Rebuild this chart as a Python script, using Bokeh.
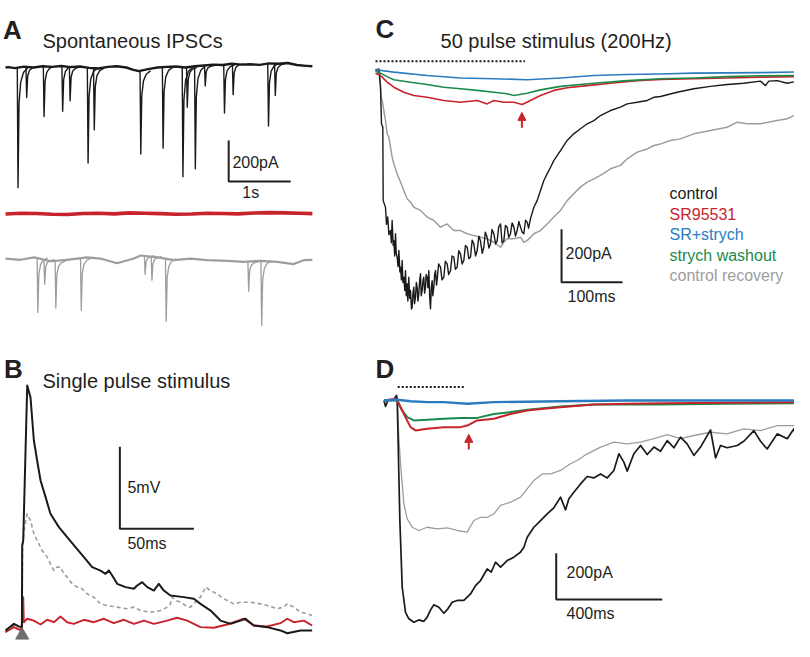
import numpy as np
from bokeh.plotting import figure
from bokeh.layouts import row, column
from bokeh.models import Range1d, Arrow, NormalHead
from bokeh.core.properties import value
from bokeh.embed import file_html
from bokeh.resources import INLINE

FONT = value("Liberation Sans")
BLACK = "#1a1a1a"
RED = "#c8232c"
BLUE = "#2a7bbf"
GREEN = "#1b8a4a"
GREY = "#9d9d9d"
TEXT = "#231f20"

# ---------------- Panel A: spontaneous IPSCs (time s, current pA) ----------------
A_CONTROL_BASE = [(0.0, 0), (0.05, 2), (0.15, -3), (0.3, 4), (0.45, 0), (0.6, 6), (0.75, 3), (0.9, 7), (1.05, 2),
                  (1.2, 5), (1.35, -2), (1.5, -5), (1.65, 3), (1.8, 6), (1.95, 0), (2.05, -10), (2.15, -18),
                  (2.3, -8), (2.45, 0), (2.6, 3), (2.75, 5), (2.9, 0), (3.05, 6), (3.2, 10), (3.35, 14),
                  (3.5, 12), (3.65, 18), (3.8, 14), (3.95, 16), (4.1, 13), (4.25, 20), (4.4, 18), (4.55, 22),
                  (4.7, 12), (4.85, 8), (4.95, 6)]
A_CONTROL_EVENTS = [(0.19, 585), (0.33, 150), (0.61, 245), (0.91, 220), (1.03, 165), (1.32, 465),
                    (1.42, 300), (2.17, 405), (2.53, 395), (2.85, 535), (2.92, 195), (3.05, 500),
                    (3.21, 100), (3.52, 235), (3.66, 150), (4.23, 305), (4.34, 155)]
A_SR_BASE = [(0.0, 0), (0.25, 4), (0.5, 3), (0.75, -1), (1.0, -2), (1.25, 3), (1.5, 4), (1.75, 1), (2.0, 6),
             (2.25, 4), (2.5, 2), (2.75, -1), (3.0, 0), (3.25, 4), (3.5, 3), (3.75, 1), (4.0, 5), (4.25, 7),
             (4.5, 6), (4.75, 4), (4.95, 2)]
A_RECOVERY_BASE = [(0.0, 0), (0.24, -6), (0.46, 6), (0.73, -13), (0.99, -6), (1.32, 6), (1.53, 0),
                   (1.80, -23), (2.07, 0), (2.18, 15), (2.45, 6), (2.72, -8), (2.98, 0), (3.25, -8),
                   (3.58, -11), (3.84, -16), (4.11, -11), (4.38, -16), (4.65, -27), (4.81, -8), (4.95, -6)]
A_RECOVERY_EVENTS = [(0.51, 265), (0.62, 120), (0.80, 230), (1.21, 255), (2.24, 90), (2.35, 115),
                     (2.58, 305), (3.91, 145), (4.12, 315)]

# ---------------- Panel B: single pulse (time ms, mV) ----------------
B_CONTROL = [(-11.3, -0.3), (-5.6, 0.1), (-2.3, -0.06), (-0.2, -0.1), (0, 4.88), (0.7, 5.2),
             (3.4, 14.63), (5.6, 13.92), (7.9, 11.28), (10.1, 10.06), (12.4, 8.84), (15.8, 7.83),
             (19.1, 6.81), (24.8, 6.0), (30.4, 5.39), (36.0, 4.78), (41.7, 4.17), (47.3, 3.56),
             (52.9, 3.35), (56.3, 3.15), (58.6, 3.35), (60.8, 3.05), (64.2, 2.54), (69.8, 2.34),
             (75.5, 2.24), (77.7, 2.44), (81.1, 2.64), (84.5, 2.34), (89.0, 2.13), (92.3, 2.54),
             (95.7, 2.13), (100.2, 1.83), (109.2, 1.73), (116.0, 1.63), (120.5, 1.32), (127.3, 0.91),
             (134.0, 0.30), (140.8, 0.10), (147.5, 0.30), (150.9, 0.41), (156.5, 0.0), (165.5, -0.10),
             (174.5, -0.30), (179.1, -0.47), (188.1, -0.30), (195.9, -0.30)]
B_RECOVERY = [(-11.3, -0.41), (-5.6, 0.0), (-1.1, -0.30), (0, -0.10), (0.2, 4.78), (1.6, 6.0),
              (3.4, 6.81), (5.6, 6.40), (7.9, 5.59), (10.1, 5.18), (13.5, 4.57), (16.9, 4.17),
              (19.1, 3.76), (21.4, 3.35), (23.6, 3.56), (25.9, 3.56), (28.2, 3.15), (30.4, 2.95),
              (33.8, 2.54), (37.2, 2.34), (40.5, 2.24), (43.9, 1.93), (48.4, 1.73), (52.9, 1.32),
              (57.4, 1.22), (64.2, 1.12), (70.9, 1.02), (75.5, 1.12), (80.0, 0.91), (86.7, 0.81),
              (93.5, 0.91), (98.0, 1.12), (100.2, 1.32), (101.4, 1.73), (103.6, 1.52), (107.0, 1.42),
              (110.4, 1.22), (113.7, 1.12), (118.2, 1.52), (120.5, 1.73), (123.9, 2.34), (127.3, 2.13),
              (131.8, 1.93), (136.3, 1.63), (143.0, 1.32), (147.5, 1.42), (154.3, 1.42), (161.0, 1.32),
              (165.5, 1.22), (172.3, 1.02), (176.8, 1.12), (179.1, 1.32), (183.6, 1.12), (188.1, 0.81),
              (192.6, 0.71), (195.9, 0.61)]
B_SR = [(-11.3, -0.41), (-5.6, -0.1), (-1.1, -0.3), (-0.2, 0.0), (0, 1.73), (0.7, 1.73), (1.1, 0.2),
        (3.4, 0.41), (7.9, 0.30), (12.4, 0.06), (16.9, 0.35), (21.4, 0.20), (25.9, 0.55), (30.4, 0.20),
        (34.9, 0.10), (41.7, 0.35), (48.4, 0.20), (55.2, 0.41), (61.9, 0.14), (68.7, 0.35), (75.5, 0.10),
        (82.2, 0.30), (89.0, 0.10), (98.0, 0.30), (104.7, 0.47), (111.5, 0.30), (120.5, -0.10),
        (129.5, -0.14), (138.5, 0.06), (143.0, 0.20), (149.8, 0.41), (156.5, 0.0), (165.5, -0.06),
        (174.5, 0.14), (179.1, 0.41), (183.6, 0.20), (190.3, 0.30), (195.9, 0.0)]

# ---------------- Panel C: 50 pulses at 200 Hz (time ms, pA) ----------------
C_CONTROL = [(0, 0), (5.5, 6), (8.2, -63), (9.8, -201), (12, -214), (12.6, -491), (16.4, -516), (18, -580),
             (20, -553), (22, -620), (24.6, -604), (26, -650), (27.3, -566), (29, -660), (30, -642), (31.5, -700),
             (32.8, -616), (34, -690), (35.5, -704), (37, -740), (38.3, -679), (40, -760), (41, -742),
             (42.5, -790), (43.7, -717), (45, -800), (46.4, -780), (48, -830), (49.2, -755), (50.5, -850),
             (51.9, -805), (53, -870), (54.6, -780), (56, -860), (57.4, -830), (59, -900), (60.1, -893),
             (61.5, -840), (62.8, -818), (64, -880), (65.6, -855), (67, -800), (68.3, -818), (69.5, -870),
             (71, -843), (72.5, -790), (73.8, -767), (75, -850), (76.5, -830), (78, -790), (79.2, -780),
             (80.5, -840), (82, -818), (83, -770), (84.7, -780), (86, -820), (87.4, -755), (89, -860),
             (90.2, -899), (91.5, -820), (92.9, -793), (94, -850), (95.6, -818), (97, -770), (98.4, -755),
             (100, -810), (101, -792), (103.5, -730), (106.6, -742), (109, -790), (112, -780), (114.5, -720),
             (117.5, -730), (120, -770), (123, -755), (125.5, -700), (128.4, -704), (131, -750), (133.9, -742),
             (136.5, -680), (139.3, -692), (142, -730), (144.8, -717), (147.5, -660), (150.3, -667),
             (153, -710), (155.7, -704), (158.5, -640), (161.2, -654), (164, -700), (166.7, -679),
             (169.5, -625), (172, -642), (175, -690), (177.6, -667), (180, -610), (183, -629), (186, -670),
             (188.5, -654), (191, -600), (194, -616), (197, -655), (199.5, -642), (202, -590), (205, -579),
             (207.5, -650), (210.4, -642), (213, -585), (215.8, -591), (218.5, -630), (221.3, -616),
             (224, -575), (226.8, -591), (229.5, -625), (232.2, -604), (235, -570), (237.7, -591),
             (240.5, -610), (243.2, -616), (246, -565), (248.6, -572), (251, -595), (254, -560),
             (259.6, -516), (265, -491), (270.5, -453), (276, -415), (281.4, -390), (287, -365), (292.3, -340),
             (303.3, -302), (314.2, -264), (325, -239), (336, -220), (347, -201), (358, -189), (368.9, -170),
             (385.2, -151), (401.6, -138), (412.6, -126), (429, -120), (445.4, -113), (456.3, -101),
             (467.2, -98), (494.5, -82), (521.9, -69), (549.2, -60), (576.5, -53), (603.8, -48), (631.1, -40),
             (639.3, -57), (644.8, -40), (658.5, -38), (674.9, -48), (685.8, -43), (696.7, -35)]
C_RECOVERY = [(0, 6), (5.5, 0), (7.1, -13), (9.3, -101), (10.9, -113), (13.7, -151), (16.4, -189),
              (19.1, -239), (21.9, -252), (24.6, -289), (27.3, -327), (30, -352), (35.5, -390), (41, -421),
              (46.4, -453), (51.9, -484), (57.4, -497), (62.8, -516), (73.8, -528), (84.7, -553),
              (95.6, -566), (106.6, -591), (117.5, -579), (128.4, -604), (139.3, -604), (150.3, -616),
              (161.2, -623), (172, -629), (183, -635), (194, -648), (205, -667), (210.4, -648),
              (215.8, -635), (226.8, -635), (237.7, -629), (243.2, -648), (248.6, -642), (259.6, -616),
              (270.5, -604), (281.4, -579), (292.3, -553), (303.3, -528), (314.2, -491), (325, -465),
              (336, -440), (347, -421), (358, -409), (368.9, -396), (385.2, -371), (401.6, -358),
              (412.6, -333), (429, -308), (445.4, -296), (456.3, -283), (467.2, -277), (483.6, -264),
              (500, -258), (521.9, -239), (549.2, -226), (576.5, -214), (592.9, -195), (609.3, -201),
              (631.1, -201), (658.5, -189), (674.9, -182), (685.8, -170), (696.7, -176)]
C_SR = [(0, -10), (8.2, -19), (19.1, -44), (30, -63), (46.4, -82), (62.8, -94), (84.7, -101), (112, -113),
        (139.3, -120), (166.7, -113), (183, -126), (194, -113), (210.4, -120), (226.8, -120), (240.4, -128),
        (254, -113), (270.5, -94), (292.3, -75), (314.2, -65), (347, -57), (385.2, -48), (429, -38),
        (467.2, -34), (521.9, -31), (576.5, -28), (631.1, -25), (696.7, -23)]
C_WASHOUT = [(0, -3), (8.2, -10), (19.1, -23), (30, -35), (57.4, -44), (84.7, -53), (112, -63), (139.3, -69),
             (166.7, -75), (194, -82), (215.8, -88), (226.8, -94), (248.6, -86), (270.5, -73), (303.3, -60),
             (358, -48), (412.6, -38), (467.2, -31), (521.9, -28), (576.5, -23), (631.1, -20), (696.7, -19)]
C_STRYCH = [(0, 3), (30, -6), (84.7, -19), (139.3, -28), (194, -31), (248.6, -35), (303.3, -28), (358, -19),
            (412.6, -15), (467.2, -13), (521.9, -10), (576.5, -9), (631.1, -8), (696.7, -5)]

# ---------------- Panel D: longer train (time ms, pA) ----------------
D_CONTROL = [(-50, 0), (-44, -25), (-35, 0), (-12.6, 4), (-2.5, 22), (0, 5), (10, -518), (18.9, -806),
             (31.4, -914), (44, -942), (62.9, -957), (81.8, -947), (100.6, -953), (113.2, -935), (125.8, -904),
             (138.4, -881), (157.2, -892), (176.1, -918), (191.2, -899), (207.5, -871), (226.4, -863),
             (251.6, -863), (276.7, -835), (295.6, -799), (314.5, -777), (339.6, -727), (354.7, -741),
             (371, -698), (390, -719), (415, -691), (440, -676), (465, -655), (478, -633), (490.6, -590),
             (515.7, -547), (541, -518), (566, -489), (591, -463), (616.4, -417), (635.2, -472), (647.8, -424),
             (666.7, -396), (691.8, -360), (717, -328), (742, -334), (767.3, -317), (792.5, -334),
             (817.6, -302), (836.5, -230), (855.3, -266), (868, -305), (893, -230), (918.2, -194),
             (943.4, -233), (968.6, -201), (993.7, -219), (1018.9, -173), (1044, -204), (1069, -158),
             (1094, -187), (1119.5, -237), (1144.7, -201), (1182.4, -127), (1201.3, -248), (1220, -194),
             (1245, -204), (1283, -194), (1308, -176), (1346, -130), (1371, -176), (1396, -209), (1434, -144),
             (1472, -165), (1497, -122), (1516, -204), (1535, -144), (1553, -170)]
D_RECOVERY = [(-50, 0), (-12.6, 3), (0, 0), (6.3, -158), (12.6, -273), (25.2, -446), (37.7, -511),
              (56.6, -547), (81.8, -561), (113.2, -547), (151, -554), (188.7, -550), (226.4, -561),
              (264, -568), (289.3, -518), (314.5, -504), (339.6, -504), (364.8, -489), (390, -453),
              (427.7, -439), (465.4, -417), (490.6, -381), (515.7, -345), (547, -317), (578.6, -317),
              (616.4, -302), (654, -273), (679.2, -259), (717, -230), (742, -216), (767.3, -201),
              (817.6, -180), (868, -187), (918.2, -180), (968.6, -165), (1018.9, -147), (1069, -165),
              (1119.5, -151), (1182.4, -137), (1245, -144), (1308, -122), (1371, -130), (1434, -108),
              (1497, -108), (1535, -98), (1553, -112)]
D_SR = [(-50, 0), (-12.6, 7), (0, 0), (12.6, -29), (31.4, -72), (50.3, -115), (69.2, -129), (113.2, -122),
        (176.1, -115), (239, -115), (264, -108), (301.9, -86), (364.8, -79), (427.7, -58), (490.6, -43),
        (553.5, -36), (616.4, -29), (742, -17), (868, -14), (993.7, -12), (1245, -10), (1553, -7)]
D_WASHOUT = [(-50, 0), (0, 0), (18.9, -43), (37.7, -72), (62.9, -86), (113.2, -83), (176.1, -79), (239, -75),
             (301.9, -75), (364.8, -58), (427.7, -50), (490.6, -40), (616.4, -26), (742, -17), (868, -17),
             (993.7, -17), (1245, -14), (1553, -12)]
D_STRYCH = [(-50, 0), (0, 3), (50.3, -3), (113.2, -7), (176.1, -7), (264, -14), (364.8, -7), (616.4, -3),
            (868, 0), (1119.5, 0), (1553, 0)]

LEGEND_LABELS = ["control", "SR95531", "SR+strych", "strych washout", "control recovery"]
LEGEND_COLORS = [BLACK, RED, BLUE, GREEN, GREY]

# stimulus trains (ms)
TRAIN_C = (0, 245)
TRAIN_D = (2, 258)

# event drawing shape (time offsets s, fraction of amplitude)
SHAPE_DT = [0.0, 0.012, 0.028, 0.055, 0.10, 0.17]
SHAPE_F = [0.0, 1.0, 0.3, 0.12, 0.04, 0.0]


def xy(pts):
    return [a for a, _ in pts], [b for _, b in pts]


def make_fig(w, h, xr, yr):
    p = figure(width=w, height=h, x_range=Range1d(*xr), y_range=Range1d(*yr),
               output_backend="svg", toolbar_location=None,
               x_axis_location=None, y_axis_location=None, min_border=0,
               outline_line_color=None, background_fill_color="white",
               border_fill_color="white")
    p.xgrid.visible = False
    p.ygrid.visible = False
    return p


def txt(p, x, y, s, size="16px", color=TEXT, bold=False, align="left", baseline="middle"):
    p.text(x=[x], y=[y], text=[s], text_font=FONT, text_font_size=size,
           text_font_style="bold" if bold else "normal", text_color=color,
           text_align=align, text_baseline=baseline)


def scalebar(p, x0, y0, dx, dy):
    p.line([x0, x0, x0 + dx], [y0 + dy, y0, y0], line_color=TEXT, line_width=2)


def trace(p, pts, color, width, offset=0.0, dash="solid"):
    xs, ys = xy(pts)
    p.line(xs, [v + offset for v in ys], line_color=color, line_width=width,
           line_join="round", line_dash=dash)


def events(p, evs, base, color, width, offset=0.0):
    bt, bv = xy(base)
    xs, ys = [], []
    for t, a in evs:
        b = float(np.interp(t, bt, bv))
        xs.append([t + d for d in SHAPE_DT])
        ys.append([offset + b - a * f for f in SHAPE_F])
    p.multi_line(xs, ys, line_color=color, line_width=width, line_join="round")


# ---------- Panel A ----------
pA = make_fig(352, 340, (-0.0806, 5.597), (-1331.7, 326.8))
OFF_RED, OFF_GREY = -715, -932
trace(pA, A_CONTROL_BASE, BLACK, 2.4)
events(pA, A_CONTROL_EVENTS, A_CONTROL_BASE, BLACK, 1.4)
trace(pA, A_SR_BASE, RED, 3.6, OFF_RED)
trace(pA, A_RECOVERY_BASE, GREY, 2.2, OFF_GREY)
events(pA, A_RECOVERY_EVENTS, A_RECOVERY_BASE, GREY, 1.3, OFF_GREY)
scalebar(pA, 3.60, -556, 1.0, 200)
txt(pA, 3.66, -463, "200pA")
txt(pA, 3.82, -612, "1s")
txt(pA, -0.04, 184, "A", size="26px", bold=True, baseline="alphabetic")
txt(pA, 0.597, 129, "Spontaneous IPSCs", size="20px", baseline="alphabetic")

# ---------- Panel B ----------
pB = make_fig(352, 301, (-14.66, 223.2), (-0.976, 17.38))
trace(pB, B_RECOVERY, GREY, 1.6, dash="4 3")
trace(pB, B_SR, RED, 1.9)
trace(pB, B_CONTROL, BLACK, 2.0)
scalebar(pB, 66, 5.9, 50, 5)
txt(pB, 71.1, 8.4, "5mV")
txt(pB, 71.1, 5.0, "50ms")
pB.scatter([0], [-0.6], marker="triangle", size=13, fill_color="#6d6e71", line_color="#6d6e71")
txt(pB, -12.3, 15.65, "B", size="26px", bold=True, baseline="alphabetic")
txt(pB, 13.7, 14.88, "Single pulse stimulus", size="20px", baseline="alphabetic")

# ---------- Panel C ----------
pC = make_fig(442, 320, (-37.7, 686.9), (-943.4, 264.2))
trace(pC, C_RECOVERY, GREY, 1.5)
trace(pC, C_CONTROL, BLACK, 1.4)
trace(pC, C_SR, RED, 1.6)
trace(pC, C_WASHOUT, GREEN, 1.6)
trace(pC, C_STRYCH, BLUE, 1.6)
pC.line(list(TRAIN_C), [35, 35], line_color=BLACK, line_width=2, line_dash="2 2")
pC.add_layout(Arrow(end=NormalHead(size=8, fill_color=RED, line_color=RED),
                    x_start=240, y_start=-216, x_end=240, y_end=-158,
                    line_color=RED, line_width=2))
scalebar(pC, 305, -799, 100, 200)
txt(pC, 311.5, -690, "200pA")
txt(pC, 314.8, -853, "100ms")
for i, (lab, col) in enumerate(zip(LEGEND_LABELS, LEGEND_COLORS)):
    txt(pC, 482, -464 - 77.5 * i, lab, color=col)
txt(pC, 0, 157, "C", size="26px", bold=True, baseline="alphabetic")
txt(pC, 106.6, 110.6, "50 pulse stimulus (200Hz)", size="20px", baseline="alphabetic")

# ---------- Panel D ----------
pD = make_fig(442, 321, (-168.7, 1499.2), (-1040.1, 345.3))
trace(pD, D_RECOVERY, GREY, 1.3)
trace(pD, D_CONTROL, BLACK, 1.7)
trace(pD, D_WASHOUT, GREEN, 2.0)
trace(pD, D_SR, RED, 2.0)
trace(pD, D_STRYCH, BLUE, 2.4)
pD.line(list(TRAIN_D), [58, 58], line_color=BLACK, line_width=2, line_dash="2 2")
pD.add_layout(Arrow(end=NormalHead(size=8, fill_color=RED, line_color=RED),
                    x_start=270, y_start=-211, x_end=270, y_end=-146,
                    line_color=RED, line_width=2))
scalebar(pD, 600, -859, 400, 200)
txt(pD, 639, -742, "200pA")
txt(pD, 639, -919, "400ms")
txt(pD, -81.9, 137, "D", size="26px", bold=True, baseline="alphabetic")

layout = row(column(pA, pB), column(pC, pD))
open("out.html", "w").write(file_html(layout, INLINE))
